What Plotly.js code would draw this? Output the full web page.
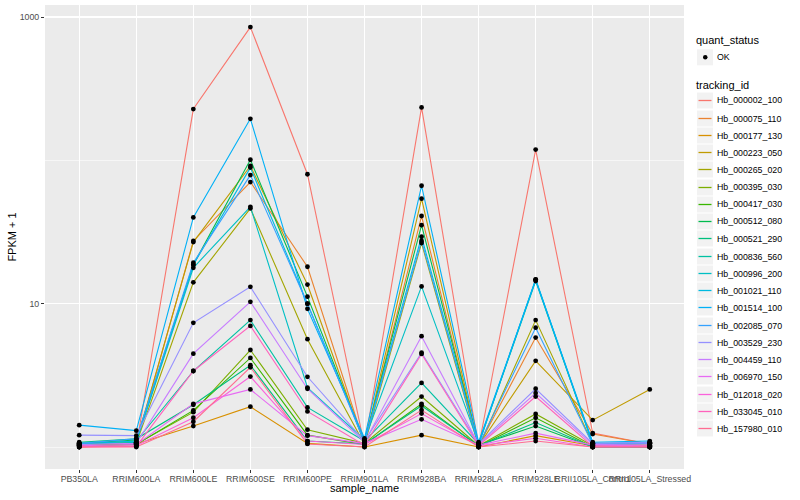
<!DOCTYPE html>
<html>
<head>
<meta charset="utf-8">
<script src="https://cdn.plot.ly/plotly-3.0.1.min.js"></script>
<style>html,body{margin:0;padding:0;background:#fff}#chart{width:800px;height:500px}</style>
</head>
<body>
<div id="chart"></div>
<script>
// ---- data (FPKM + 1) ----
const categories = ["PB350LA","RRIM600LA","RRIM600LE","RRIM600SE","RRIM600PE","RRIM901LA","RRIM928BA","RRIM928LA","RRIM928LE","RRII105LA_Control","RRII105LA_Stressed"];
const trackingIds = ["Hb_000002_100","Hb_000075_110","Hb_000177_130","Hb_000223_050","Hb_000265_020","Hb_000395_030","Hb_000417_030","Hb_000512_080","Hb_000521_290","Hb_000836_560","Hb_000996_200","Hb_001021_110","Hb_001514_100","Hb_002085_070","Hb_003529_230","Hb_004459_110","Hb_006970_150","Hb_012018_020","Hb_033045_010","Hb_157980_010"];
const statusLevels = ["OK"];
const hb_000002_100 = [1.00, 1.02, 228, 851, 80, 1.02, 234, 1.00, 119, 1.25, 1.05];
const hb_000075_110 = [1.03, 1.05, 27.4, 70.6, 18.1, 1.05, 40.9, 1.02, 5.8, 1.23, 1.05];
const hb_000177_130 = [1.00, 1.05, 1.40, 1.91, 1.06, 1.00, 1.21, 1.00, 1.20, 1.02, 1.02];
const hb_000223_050 = [1.05, 1.08, 26.9, 91.4, 13.6, 1.05, 54, 1.02, 3.99, 1.54, 2.52];
const hb_000265_020 = [1.04, 1.06, 14.1, 46.2, 5.65, 1.04, 26.5, 1.00, 7.68, 1.05, 1.03];
const hb_000395_030 = [1.03, 1.05, 1.75, 4.75, 1.32, 1.06, 2.25, 1.02, 1.70, 1.02, 1.00];
const hb_000417_030 = [1.02, 1.04, 1.80, 4.18, 1.21, 1.04, 2.0, 1.01, 1.60, 1.00, 1.00];
const hb_000512_080 = [1.06, 1.12, 18.7, 101, 11.2, 1.08, 35.3, 1.03, 1.40, 1.00, 1.00];
const hb_000521_290 = [1.08, 1.14, 1.97, 3.72, 1.10, 1.05, 1.94, 1.02, 1.48, 1.00, 1.00];
const hb_000836_560 = [1.05, 1.10, 3.39, 7.68, 1.89, 1.10, 2.8, 1.05, 14.4, 1.05, 1.06];
const hb_000996_200 = [1.04, 1.08, 17.8, 47.4, 2.6, 1.12, 13.2, 1.06, 14.6, 1.06, 1.07];
const hb_001021_110 = [1.05, 1.10, 18.7, 89, 10.0, 1.10, 29.3, 1.04, 14.8, 1.05, 1.08];
const hb_001514_100 = [1.42, 1.30, 40, 195, 9.2, 1.15, 66.5, 1.08, 14.7, 1.08, 1.10];
const hb_002085_070 = [1.06, 1.14, 19.3, 78.9, 10.0, 1.08, 27.4, 1.03, 6.8, 1.04, 1.06];
const hb_003529_230 = [1.21, 1.20, 7.35, 13.1, 3.09, 1.10, 4.55, 1.05, 2.55, 1.06, 1.08];
const hb_004459_110 = [1.04, 1.06, 4.48, 10.3, 2.55, 1.08, 5.93, 1.04, 2.38, 1.04, 1.05];
const hb_006970_150 = [1.02, 1.04, 2.0, 2.52, 1.20, 1.06, 1.56, 1.03, 1.25, 1.03, 1.02];
const hb_012018_020 = [1.01, 1.02, 1.60, 3.1, 1.10, 1.04, 1.71, 1.02, 1.15, 1.00, 1.00];
const hb_033045_010 = [1.00, 1.01, 3.39, 7.0, 1.77, 1.03, 4.46, 1.02, 2.25, 1.01, 1.01];
const hb_157980_010 = [1.00, 1.00, 1.50, 3.6, 1.05, 1.00, 1.81, 1.00, 1.10, 1.00, 1.00];
const seriesValues = [hb_000002_100, hb_000075_110, hb_000177_130, hb_000223_050, hb_000265_020, hb_000395_030, hb_000417_030, hb_000512_080, hb_000521_290, hb_000836_560, hb_000996_200, hb_001021_110, hb_001514_100, hb_002085_070, hb_003529_230, hb_004459_110, hb_006970_150, hb_012018_020, hb_033045_010, hb_157980_010];
const yTickVals = [10, 1000];
const yTickText = ["10", "1000"];
const yMinorVals = [1, 100];

// ---- style ----
const palette = ["#F8766D","#EA8331","#D89000","#C09B00","#A3A500","#7CAE00","#39B600","#00BB4E","#00BF7D","#00C1A3","#00BFC4","#00BAE0","#00B0F6","#35A2FF","#9590FF","#C77CFF","#E76BF3","#FA62DB","#FF62BC","#FF6C91"];
const FONT = "Liberation Sans, Arial, Helvetica, sans-serif";
const W = 800, H = 500;
const M = {l: 45, r: 116, t: 5, b: 31};
const plotW = W - M.l - M.r, plotH = H - M.t - M.b;
const px2x = p => (p - M.l) / plotW;
const px2y = p => (H - M.b - p) / plotH;

const traces = [];
trackingIds.forEach((id, i) => {
  traces.push({
    type: "scatter", mode: "lines", name: id,
    x: categories, y: seriesValues[i],
    line: {color: palette[i], width: 1.1}, showlegend: false
  });
});
const px = [], py = [];
seriesValues.forEach(v => v.forEach((val, j) => { px.push(categories[j]); py.push(val); }));
traces.push({
  type: "scatter", mode: "markers", name: statusLevels[0], x: px, y: py,
  marker: {color: "#000000", size: 4.8}, showlegend: false
});

// ---- legend drawn as shapes + annotations (ggplot style keys) ----
const shapes = [], annotations = [];
const keyL = 697, keyR = 713, textX = 716;
function keyBox(cy) {
  shapes.push({type: "rect", xref: "paper", yref: "paper", layer: "above",
    x0: px2x(keyL), x1: px2x(keyR), y0: px2y(cy + 8), y1: px2y(cy - 8),
    fillcolor: "#F2F2F2", line: {width: 0}});
}
function label(text, x, cy, size) {
  annotations.push({xref: "paper", yref: "paper", x: px2x(x), y: px2y(cy),
    xanchor: "left", yanchor: "middle", showarrow: false, text: text, borderpad: 0,
    font: {family: FONT, size: size, color: "#000000"}});
}
label("quant_status", 695, 40.5, 11);
keyBox(57.3);
shapes.push({type: "circle", xref: "paper", yref: "paper", layer: "above",
  x0: px2x(703), x1: px2x(707.5), y0: px2y(59.5), y1: px2y(55), fillcolor: "#000000", line: {width: 0}});
label(statusLevels[0], textX, 57.3, 8.8);
label("tracking_id", 695, 84.5, 11);
trackingIds.forEach((id, i) => {
  const cy = Math.round(100.3 + i * 17.26) + 0.5;
  keyBox(cy);
  shapes.push({type: "line", xref: "paper", yref: "paper", layer: "above",
    x0: px2x(keyL + 1.5), x1: px2x(keyR - 1.5), y0: px2y(cy), y1: px2y(cy),
    line: {color: palette[i], width: 1.3}});
  label(id, textX, cy, 8.8);
});
// x axis title placed like ggplot
annotations.push({xref: "paper", yref: "paper", x: 0.5, y: px2y(487.5), xanchor: "center", yanchor: "middle",
  showarrow: false, text: "sample_name", borderpad: 0, font: {family: FONT, size: 11, color: "#000000"}});

const layout = {
  width: W, height: H,
  margin: {l: M.l, r: M.r, t: M.t, b: M.b, autoexpand: false},
  paper_bgcolor: "#FFFFFF", plot_bgcolor: "#EBEBEB",
  font: {family: FONT, color: "#000000"},
  showlegend: false,
  xaxis: {
    type: "category", categoryorder: "array", categoryarray: categories,
    range: [-0.6, 10.6], showgrid: true, gridcolor: "#FFFFFF", gridwidth: 1.1,
    zeroline: false, showline: false, tickangle: 0, automargin: false,
    ticks: "outside", ticklen: 3, tickcolor: "#333333", tickwidth: 1,
    ticklabelstandoff: -2,
    tickfont: {family: FONT, size: 8.8, color: "#4D4D4D"}
  },
  yaxis: {
    type: "log", range: [-0.1535, 3.084], automargin: false,
    tickmode: "array", tickvals: yTickVals, ticktext: yTickText,
    showgrid: true, gridcolor: "#FFFFFF", gridwidth: 1.1,
    minor: {tickmode: "array", tickvals: yMinorVals, showgrid: true, gridcolor: "#FFFFFF", gridwidth: 0.55, ticks: ""},
    zeroline: false, showline: false,
    ticks: "outside", ticklen: 3, tickcolor: "#333333", tickwidth: 1,
    tickfont: {family: FONT, size: 8.8, color: "#4D4D4D"},
    title: {text: "FPKM + 1", font: {family: FONT, size: 11, color: "#000000"}, standoff: 0}
  },
  shapes: shapes,
  annotations: annotations
};

Plotly.newPlot("chart", traces, layout, {displayModeBar: false, staticPlot: true});
</script>
</body>
</html>
